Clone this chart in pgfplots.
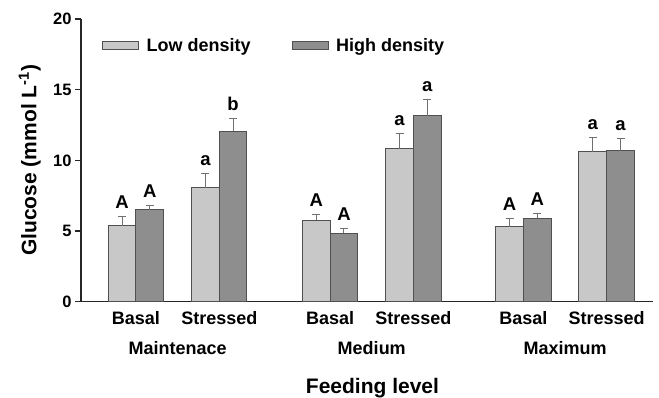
\documentclass[border=0pt]{standalone}
\usepackage{pgfplots}
\usepackage{pgfplotstable}
\pgfplotsset{compat=1.18}
\usepackage{fontspec}
\setmainfont{Liberation Sans}
\definecolor{lowc}{HTML}{C8C8C8}
\definecolor{highc}{HTML}{8E8E8E}
\definecolor{edgec}{HTML}{505050}
\definecolor{errc}{HTML}{707070}
\pgfplotstableread{
x y err lab
0 5.38 0.66 A
1 8.05 0.99 a
2.33 5.76 0.38 A
3.33 10.83 1.09 a
4.65 5.29 0.58 A
5.65 10.62 1.01 a
}\lowtable
\pgfplotstableread{
x y err lab
0 6.51 0.33 A
1 12.06 0.92 b
2.33 4.84 0.35 A
3.33 13.16 1.11 a
4.65 5.92 0.29 A
5.65 10.67 0.89 a
}\hightable
\begin{document}
\begin{tikzpicture}
\path[use as bounding box] (0,0) rectangle (659pt,397pt);
\begin{axis}[
  at={(81pt,95.3pt)}, anchor=south west,
  scale only axis, width=572pt, height=282.7pt,
  xmin=-0.66, xmax=6.206, ymin=0, ymax=20,
  ybar=0pt, bar width=27.7pt,
  axis x line=bottom, axis y line=left,
  axis line style={-, line width=1.3pt, color=black!85},
  clip=false,
  ytick={0,5,10,15,20},
  tick align=outside, major tick length=6pt,
  ytick style={line width=1.2pt, color=black!85},
  xtick={0,1,2.33,3.33,4.65,5.65},
  xticklabels={Basal,Stressed,Basal,Stressed,Basal,Stressed},
  x tick style={draw=none},
  xticklabel style={font=\fontsize{18}{20}\selectfont\bfseries},
  yticklabel style={font=\fontsize{16.5}{18}\selectfont\bfseries},
  /pgf/number format/assume math mode=true,
  legend style={draw=none, fill=none, inner sep=0pt, outer sep=0pt,
    at={(rel axis cs:0.037,0.906)}, anchor=west,
    font=\fontsize{18}{20}\selectfont\bfseries,
    nodes={inner sep=0pt},
    /tikz/every odd column/.append style={column sep=7.5pt},
    /tikz/every even column/.append style={column sep=41pt}},
  legend columns=2,
  nodes near coords, point meta=explicit symbolic,
  visualization depends on={\thisrow{err} \as \myerr},
  every node near coord/.append style={anchor=base, inner sep=0pt,
    yshift={\myerr*14.135pt+8pt},
    font=\fontsize{18.5}{20}\selectfont\bfseries, text=black},
  error bars/y dir=plus, error bars/y explicit,
  error bars/error bar style={line width=1pt, color=errc},
  error bars/error mark options={rotate=90, mark size=4pt, line width=1pt, color=errc},
]
\addplot[fill=lowc, draw=edgec, line width=1pt,
  legend image code/.code={\draw[fill=lowc, draw=edgec, line width=1pt] (0pt,-4pt) rectangle (36pt,4pt);}]
  table[x=x, y=y, y error=err, meta=lab] {\lowtable};
\addlegendentry{Low density}
\addplot[fill=highc, draw=edgec, line width=1pt,
  legend image code/.code={\draw[fill=highc, draw=edgec, line width=1pt] (0pt,-4pt) rectangle (36pt,4pt);}]
  table[x=x, y=y, y error=err, meta=lab] {\hightable};
\addlegendentry{High density}

\node[anchor=base, font=\fontsize{18}{20}\selectfont\bfseries] at ([yshift=-52.6pt]axis cs:0.5,0) {Maintenace};
\node[anchor=base, font=\fontsize{18}{20}\selectfont\bfseries] at ([yshift=-52.6pt]axis cs:2.83,0) {Medium};
\node[anchor=base, font=\fontsize{18}{20}\selectfont\bfseries] at ([yshift=-52.6pt]axis cs:5.15,0) {Maximum};
\node[anchor=base, font=\fontsize{21}{24}\selectfont\bfseries] at ([yshift=-91.6pt]rel axis cs:0.5096,0) {Feeding level};
\node[anchor=base, rotate=90, font=\fontsize{21}{24}\selectfont\bfseries] at ([xshift=-44.5pt]rel axis cs:0,0.5) {Glucose (mmol L\textsuperscript{-1})};
\end{axis}
\end{tikzpicture}
\end{document}
